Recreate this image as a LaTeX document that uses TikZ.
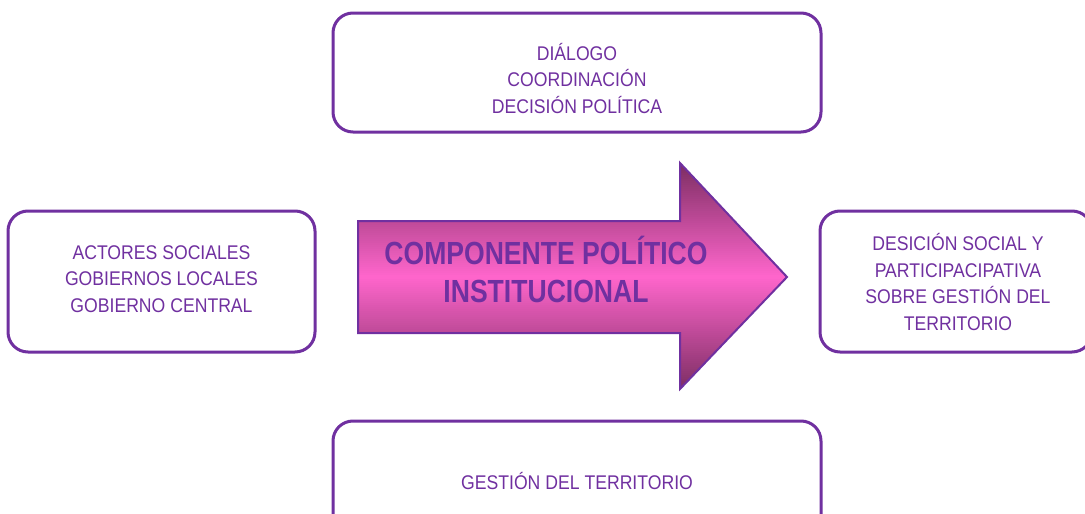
\documentclass[tikz,border=0pt]{standalone}
\usepackage{fontspec}
\setmainfont{Liberation Sans}
\newfontfamily\boxfont[FakeStretch=0.89]{Liberation Sans}
\newfontfamily\arrowfont[FakeStretch=0.83]{Liberation Sans Bold}
\definecolor{pur}{HTML}{7030A0}
\definecolor{pinkmid}{HTML}{FF66CC}
\definecolor{pinkdark}{HTML}{7B2D62}
\tikzset{
  rbox/.style={draw=pur, line width=3pt, rounded corners=20pt, fill=white, inner sep=0pt},
  txt/.style={text=pur, font=\boxfont\fontsize{19.8}{26.5}\selectfont, align=center, inner sep=0pt},
  arrowtxt/.style={text=pur, font=\arrowfont\fontsize{32}{38}\selectfont, align=center, inner sep=0pt},
  arrowline/.style={draw=pur, line width=2pt, line join=miter}
}
\begin{document}
\begin{tikzpicture}[x=1pt,y=-1pt]
\useasboundingbox (0,0) rectangle (1085,514);
% boxes
\node (top) [rbox, minimum width=488pt, minimum height=119pt] at (577,72.5) {};
\node (toptext) [txt] at (577,78.5) {DIÁLOGO\\COORDINACIÓN\\DECISIÓN POLÍTICA};
\node (left) [rbox, minimum width=307pt, minimum height=141pt] at (161.5,281.5) {};
\node (lefttext) [txt] at (161.5,279) {ACTORES SOCIALES\\GOBIERNOS LOCALES\\GOBIERNO CENTRAL};
\node (right) [rbox, minimum width=272pt, minimum height=141pt] at (956,281.5) {};
\node (righttext) [txt] at (958,282) {DESICIÓN SOCIAL Y\\PARTICIPACIPATIVA\\SOBRE GESTIÓN DEL\\TERRITORIO};
\node (bottom) [rbox, minimum width=488pt, minimum height=120pt] at (577,481) {};
\node (bottomtext) [txt] at (577,481) {GESTIÓN DEL TERRITORIO};
% arrow with vertical gradient (stripes clipped to the arrow)
\begin{scope}
  \clip (358,221) -- (680,221) -- (680,163) -- (787,277) -- (680,389) -- (680,333) -- (358,333) -- cycle;
  \foreach \i in {0,...,113} {
    \pgfmathsetmacro{\yy}{163+2*\i}
    \pgfmathsetmacro{\tt}{min(100,abs(\yy+1-277)/114*100)}
    \fill[pinkdark!\tt!pinkmid] (358,\yy) rectangle (787,\yy+2.3);
  }
\end{scope}
\draw[arrowline]
  (358,221) -- (680,221) -- (680,163) -- (787,277) -- (680,389) -- (680,333) -- (358,333) -- cycle;
\node (arrowtext) [arrowtxt] at (546,269) {COMPONENTE POLÍTICO\\INSTITUCIONAL};
\end{tikzpicture}
\end{document}
